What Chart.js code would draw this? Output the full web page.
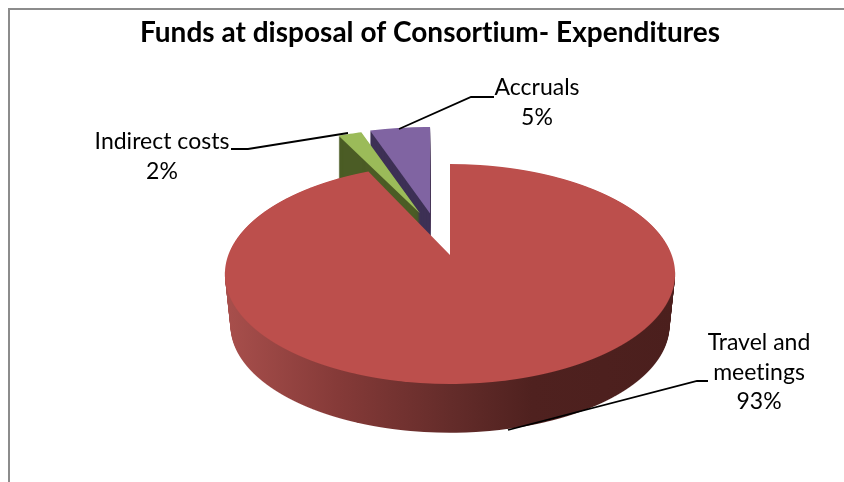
<!DOCTYPE html>
<html>
<head>
<meta charset="utf-8">
<style>
  html, body { margin: 0; padding: 0; background: #fff; }
  canvas { display: block; }
</style>
<script src="https://cdn.jsdelivr.net/npm/chart.js@4"></script>
</head>
<body>
<canvas id="myChart" width="844" height="482"></canvas>
<script>
const categories = ['Travel and meetings', 'Indirect costs', 'Accruals'];
const shares = [93, 2, 5];
const topColors = ['#bc4f4c', '#9bbb59', '#8064a2'];
const sideColors = ['#7a302e', '#4b5c25', '#3d3055'];

// perspective of the tilted pie: apex of the big slice, half sizes on screen
const view = { apexX: 450, apexY: 255, halfX: 221.7, halfY: 106.7, tilt: 0.1727, depth: 52 };
// how far each slice is pulled out (in radii) and how much bigger it looks
const pull = [[0, 0, 1], [-0.135, -0.4175, 1.07], [-0.09, -0.4175, 1.096]];
const rowsTop = [[155, 392], [120, 215], [120, 215]];

function paintRows(ctx, el, p, f, shrink, y0, y1) {
  const R = el.outerRadius;
  const apexY = view.apexY + f * view.depth;
  const ax = view.halfX * (1 - f * shrink);
  const by = view.halfY * (1 - f * shrink);
  const k = p[2];
  for (let Y = y0; Y < y1; Y++) {
    const yy = (Y + 0.5 - apexY) / by;
    const v = yy / (1 + view.tilt * yy);
    const w = 1 - view.tilt * v;
    const sx = ax / (R * w);
    const sy = by / (R * w * w);
    ctx.save();
    ctx.beginPath();
    ctx.rect(0, Y, 844, 1);
    ctx.clip();
    ctx.setTransform(sx * k, 0, 0, sy * k,
      view.apexX + p[0] * ax - el.x * sx * k,
      Y + 0.5 - (el.y + (v - p[1]) * R / k) * sy * k);
    el.draw(ctx);
    ctx.restore();
  }
}

function withColor(el, color, fn) {
  const saved = el.options;
  el.options = Object.assign({}, saved, { backgroundColor: color });
  fn();
  el.options = saved;
}

const tiltedPie = {
  id: 'tiltedPie',
  beforeDatasetsDraw(chart) {
    const ctx = chart.ctx;
    const arcs = chart.getDatasetMeta(0).data;

    // small slices first, back to front
    [2, 1].forEach(i => {
      withColor(arcs[i], sideColors[i], () => {
        for (let s = view.depth; s > 0; s--) {
          paintRows(ctx, arcs[i], pull[i], s / view.depth, 0, rowsTop[i][0] + s, rowsTop[i][1] + s);
        }
      });
      paintRows(ctx, arcs[i], pull[i], 0, 0, rowsTop[i][0], rowsTop[i][1]);
    });

    // side wall of the big slice, shaded left to right
    const off = document.createElement('canvas');
    off.width = 844;
    off.height = 482;
    const octx = off.getContext('2d');
    withColor(arcs[0], sideColors[0], () => {
      for (let s = view.depth; s >= 0; s--) {
        paintRows(octx, arcs[0], pull[0], s / view.depth, 0.025, 272 + s, 392 + s);
      }
    });
    const shade = octx.createLinearGradient(226, 0, 676, 0);
    shade.addColorStop(0, '#a84f4c');
    shade.addColorStop(0.25, '#853a38');
    shade.addColorStop(0.5, '#642c2a');
    shade.addColorStop(0.68, '#4f211f');
    shade.addColorStop(1, '#4b1f1d');
    octx.globalCompositeOperation = 'source-atop';
    octx.fillStyle = shade;
    octx.fillRect(0, 0, 844, 482);
    ctx.drawImage(off, 0, 0);

    paintRows(ctx, arcs[0], pull[0], 0, 0, rowsTop[0][0], rowsTop[0][1]);
    return false;
  }
};

const labelSpots = [
  { lines: ['Travel and', 'meetings'], x: 759, y: 343, leader: [[508, 430], [697, 381], [708, 381]] },
  { lines: ['Indirect costs'], x: 162, y: 142, leader: [[231, 149], [248, 149], [348, 133]] },
  { lines: ['Accruals'], x: 537, y: 88, leader: [[399, 129], [471, 97], [494, 97]] }
];

const pieLabels = {
  id: 'pieLabels',
  beforeDraw(chart) {
    const ctx = chart.ctx;
    // a tiny letter spacing keeps Lato from joining "ti" into a ligature
    ctx.letterSpacing = '0.01px';
    ctx.save();
    ctx.strokeStyle = '#8c8c8c';
    ctx.lineWidth = 2;
    ctx.beginPath();
    ctx.moveTo(9, 482);
    ctx.lineTo(9, 9);
    ctx.lineTo(844, 9);
    ctx.stroke();
    ctx.restore();
  },
  afterDraw(chart) {
    const ctx = chart.ctx;
    const total = shares.reduce((a, b) => a + b, 0);
    ctx.save();
    ctx.font = '23px Lato';
    ctx.fillStyle = '#000';
    ctx.textAlign = 'center';
    ctx.textBaseline = 'middle';
    ctx.strokeStyle = '#000';
    ctx.lineWidth = 1.8;
    labelSpots.forEach((spot, i) => {
      const lines = spot.lines.concat(Math.round(shares[i] / total * 100) + '%');
      lines.forEach((t, k) => ctx.fillText(t, spot.x, spot.y + k * 29.5));
      ctx.beginPath();
      spot.leader.forEach((pt, k) => k ? ctx.lineTo(pt[0], pt[1]) : ctx.moveTo(pt[0], pt[1]));
      ctx.stroke();
    });
    ctx.restore();
  }
};

new Chart(document.getElementById('myChart'), {
  type: 'pie',
  data: {
    labels: categories,
    datasets: [{
      data: shares,
      backgroundColor: topColors,
      borderWidth: 0
    }]
  },
  options: {
    responsive: false,
    animation: false,
    rotation: 0,
    layout: { padding: { left: 16 } },
    plugins: {
      legend: { display: false },
      tooltip: { enabled: false },
      title: {
        display: true,
        text: 'Funds at disposal of Consortium- Expenditures',
        color: '#000',
        font: { family: 'Lato', size: 28, weight: 'bold' },
        padding: { top: 16, bottom: 10 }
      }
    }
  },
  plugins: [tiltedPie, pieLabels]
});
</script>
</body>
</html>
